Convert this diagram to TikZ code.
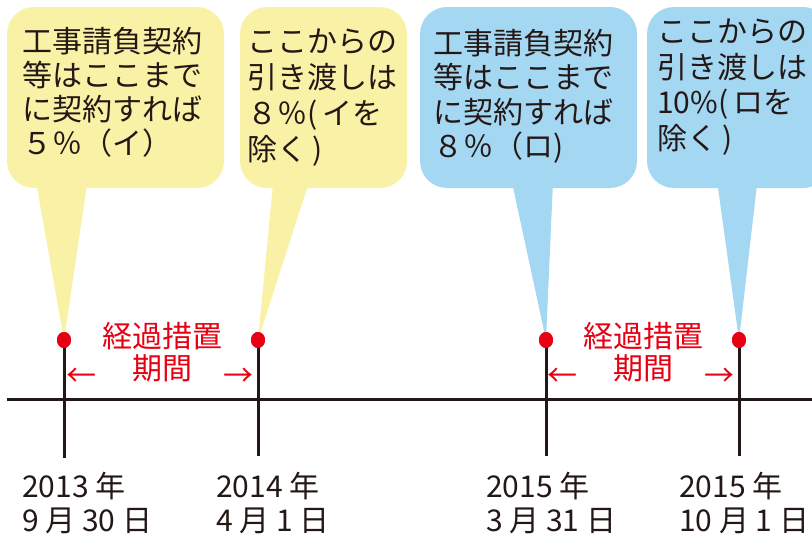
\documentclass[tikz,border=0pt]{standalone}
\usepackage{fontspec}
\setmainfont{Noto Sans CJK JP}
\usetikzlibrary{shapes.geometric}
\definecolor{yel}{HTML}{F9F1A5}
\definecolor{blu}{HTML}{A3D7F2}
\definecolor{ink}{HTML}{231815}
\definecolor{rd}{HTML}{E60012}
\begin{document}
\begin{tikzpicture}[x=1pt,y=-1pt,
  bubble/.style={draw=none,rounded corners=27pt,inner sep=0pt},
  btext/.style={anchor=north west,inner sep=0pt,align=left,text=ink,font=\fontsize{30}{34}\selectfont},
  dot/.style={ellipse,fill=rd,inner sep=0pt,minimum width=14pt,minimum height=16pt},
  tl/.style={draw=ink,line width=3pt},
  redtxt/.style={text=rd,inner sep=0pt,align=center,font=\fontsize{30}{32}\selectfont},
  arrtxt/.style={text=rd,inner sep=0pt,font=\fontsize{30}{32}\selectfont},
  datetxt/.style={anchor=north west,inner sep=0pt,align=left,text=ink,font=\fontsize{30}{34}\selectfont}]
\useasboundingbox (0,0) rectangle (812,538);
\clip (0,0) rectangle (812,538);
% bubbles
\node[bubble,fill=yel,minimum width=217pt,minimum height=181pt] (b1) at (115.5,97.5) {};
\node[bubble,fill=yel,minimum width=167pt,minimum height=181pt] (b2) at (323.5,97.5) {};
\node[bubble,fill=blu,minimum width=217pt,minimum height=181pt] (b3) at (528.5,97.5) {};
\node[bubble,fill=blu,minimum width=183pt,minimum height=181pt] (b4) at (738.5,97.5) {};
% dots
\node[dot] (d1) at (64,340) {};
\node[dot] (d2) at (258,340) {};
\node[dot] (d3) at (546,340) {};
\node[dot] (d4) at (739,340) {};
% tails
\fill[yel] ([xshift=30pt,yshift=2pt]b1.south west) -- (d1.center) -- ([xshift=80pt,yshift=2pt]b1.south west) -- cycle;
\fill[yel] ([xshift=33pt,yshift=2pt]b2.south west) -- (d2.center) -- ([xshift=68pt,yshift=2pt]b2.south west) -- cycle;
\fill[blu] ([xshift=93pt,yshift=2pt]b3.south west) -- (d3.center) -- ([xshift=133pt,yshift=2pt]b3.south west) -- cycle;
\fill[blu] ([xshift=71pt,yshift=2pt]b4.south west) -- (d4.center) -- ([xshift=110pt,yshift=2pt]b4.south west) -- cycle;
% bubble texts
\node[btext] (t1) at (22,27) {工事請負契約\\等はここまで\\に契約すれば\\５％（イ）};
\node[btext,font=\fontsize{30}{36}\selectfont] (t2) at (247,29) {ここからの\\引き渡しは\\８％(\,イを\\除く\,)};
\node[btext,font=\fontsize{30}{34.5}\selectfont] (t3) at (433,29) {工事請負契約\\等はここまで\\に契約すれば\\８％（ロ)};
\node[btext,font=\fontsize{30}{35.5}\selectfont] (t4) at (657,19) {ここからの\\引き渡しは\\10\%(\,ロを\\除く\,)};
% axis
\coordinate (a0) at (7,399);
\coordinate (a1) at (812,399);
\draw[tl] (a0) -- (a1);
\coordinate (e1) at (64,458);
\coordinate (e2) at (258,456);
\coordinate (e3) at (546,456);
\coordinate (e4) at (739,456);
\draw[tl] (d1.center) -- (e1);
\draw[tl] (d2.center) -- (e2);
\draw[tl] (d3.center) -- (e3);
\draw[tl] (d4.center) -- (e4);
\node[dot] at (d1) {};
\node[dot] at (d2) {};
\node[dot] at (d3) {};
\node[dot] at (d4) {};
% transition labels
\node[redtxt] (k1) at (162,352) {経過措置\\期間};
\node[redtxt] (k2) at (643,352) {経過措置\\期間};
\node[arrtxt] (l1) at (81,377) {←};
\node[arrtxt] (r1) at (238,377) {→};
\node[arrtxt] (l2) at (562,377) {←};
\node[arrtxt] (r2) at (719,377) {→};
% dates
\node[datetxt] (y1) at (22,472) {2013 年\\9 月 30 日};
\node[datetxt] (y2) at (216,472) {2014 年\\4 月 1 日};
\node[datetxt] (y3) at (486,472) {2015 年\\3 月 31 日};
\node[datetxt] (y4) at (679,472) {2015 年\\10 月 1 日};
\end{tikzpicture}
\end{document}
